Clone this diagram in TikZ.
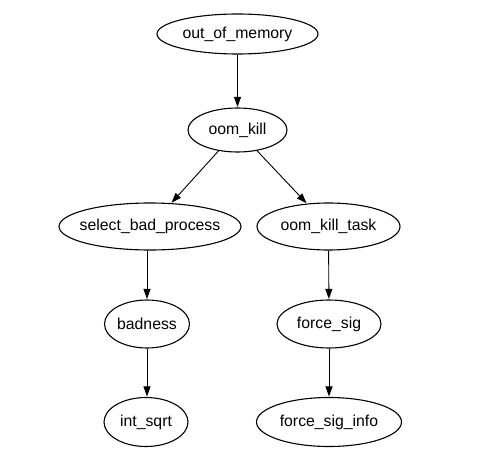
\documentclass[tikz,border=0pt]{standalone}
\usepackage{fontspec}
\setmainfont{Liberation Sans}
\usetikzlibrary{shapes.geometric,arrows.meta}
\newcommand{\fnlabel}[1]{\makebox[0pt]{#1}}
\begin{document}
\begin{tikzpicture}[x=1pt,y=-1pt,
  fn/.style={draw=black,line width=1.1pt,ellipse,inner sep=0pt,minimum height=47pt,font=\fontsize{15.8}{18}\selectfont},
  call/.style={draw=black,line width=0.9pt,-{Triangle[length=10pt,width=7pt]},shorten >=0.5pt}]
\useasboundingbox (0,0) rectangle (497,473);
\node[fn,minimum width=161pt,minimum height=40pt] (oom) at (237.5,34) {\fnlabel{out\_of\_memory}};
\node[fn,minimum width=99pt,minimum height=44pt] (kill) at (237.5,130) {\fnlabel{oom\_kill}};
\node[fn,minimum width=182pt] (sel) at (150,226.5) {\fnlabel{select\_bad\_process}};
\node[fn,minimum width=143pt] (task) at (328.5,226.5) {\fnlabel{oom\_kill\_task}};
\node[fn,minimum width=85pt,minimum height=48pt] (bad) at (147,324) {\fnlabel{badness}};
\node[fn,minimum width=104pt,minimum height=48pt] (sig) at (329,324) {\fnlabel{force\_sig}};
\node[fn,minimum width=84pt,minimum height=49pt] (sqrt) at (146,422) {\fnlabel{int\_sqrt}};
\node[fn,minimum width=145pt,minimum height=49pt] (info) at (329,422) {\fnlabel{force\_sig\_info}};
\draw[call] (oom) -- (kill);
\draw[call] (kill) -- (sel);
\draw[call] (kill) -- (task);
\draw[call] (sel.south -| bad.north) -- (bad);
\draw[call] (task) -- (sig);
\draw[call] (bad) -- (sqrt.north -| bad.south);
\draw[call] (sig) -- (info);
\end{tikzpicture}
\end{document}
